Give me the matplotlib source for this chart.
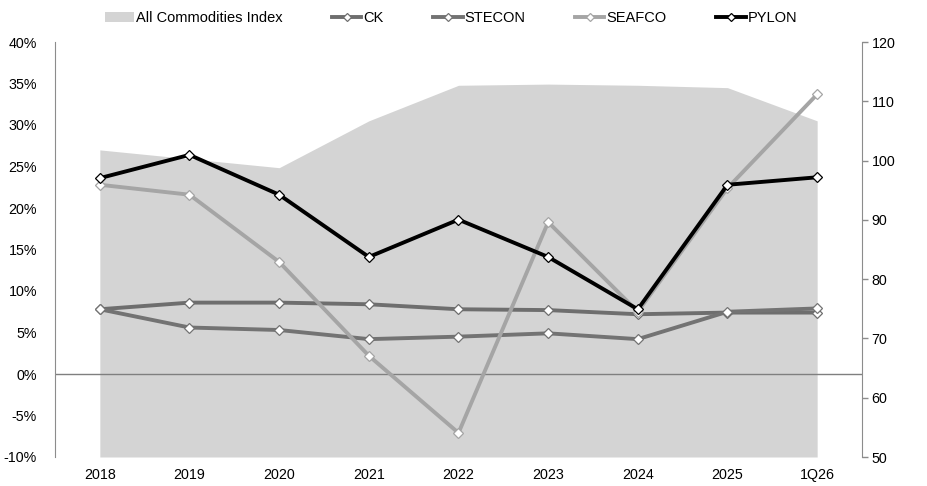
import matplotlib
matplotlib.use("Agg")
import matplotlib.pyplot as plt
from matplotlib.patches import Patch
from matplotlib.lines import Line2D

plt.rcParams['font.family'] = ['Liberation Sans', 'DejaVu Sans']

categories = ["2018", "2019", "2020", "2021", "2022", "2023", "2024", "2025", "1Q26"]
commodities_index = [101.8, 100.3, 98.8, 106.7, 112.7, 112.9, 112.7, 112.3, 106.7]
ck = [7.8, 8.6, 8.6, 8.4, 7.8, 7.7, 7.2, 7.4, 7.4]
stecon = [7.8, 5.6, 5.3, 4.2, 4.5, 4.9, 4.2, 7.5, 7.9]
seafco = [22.8, 21.6, 13.5, 2.2, -7.1, 18.3, 7.5, 22.4, 33.7]
pylon = [23.6, 26.4, 21.6, 14.1, 18.6, 14.1, 7.8, 22.8, 23.7]
left_ticks = [-10, -5, 0, 5, 10, 15, 20, 25, 30, 35, 40]
right_ticks = [50, 60, 70, 80, 90, 100, 110, 120]

fig = plt.figure(figsize=(9.28, 4.86), dpi=100)
ax = fig.add_axes([55 / 928, 1 - 457 / 486, (862 - 55) / 928, (457 - 42) / 486])
ax2 = ax.twinx()

x = list(range(len(categories)))

# commodity index as a filled area on the secondary axis
ax2.fill_between(x, 50, commodities_index, color="#d4d4d4", linewidth=0)
ax2.set_ylim(50, 120)
ax2.set_yticks(right_ticks)
ax2.tick_params(axis='y', length=4, width=1, color="#8c8c8c", labelsize=10.3, pad=3)

# growth lines drawn above the area
ax.set_zorder(ax2.get_zorder() + 1)
ax.patch.set_visible(False)

ax.axhline(0, color="#7f7f7f", linewidth=1, zorder=1)

series = [
    ("CK", ck, "#6e6e6e"),
    ("STECON", stecon, "#737373"),
    ("SEAFCO", seafco, "#a5a5a5"),
    ("PYLON", pylon, "#000000"),
]
for name, vals, col in series:
    ax.plot(x, vals, color=col, linewidth=2.8, marker="D", markersize=5.5,
            markerfacecolor="white", markeredgecolor=col, markeredgewidth=0.9,
            zorder=3, label=name)

ax.set_xlim(-0.5, len(categories) - 0.5)
ax.set_ylim(-10, 40)
ax.set_yticks(left_ticks)
ax.set_yticklabels([f"{t}%" for t in left_ticks])
ax.set_xticks(x)
ax.set_xticklabels(categories)
ax.tick_params(axis='y', length=0, labelsize=10.3, pad=13)
ax.tick_params(axis='x', length=0, labelsize=10.3, pad=8)

for a in (ax, ax2):
    a.spines['top'].set_visible(False)
    a.spines['bottom'].set_visible(False)
ax.spines['right'].set_visible(False)
ax2.spines['left'].set_visible(False)
ax.spines['left'].set_color("#8c8c8c")
ax2.spines['right'].set_color("#8c8c8c")

handles = [Patch(facecolor="#d4d4d4", edgecolor="none", label="All Commodities Index")]
for name, vals, col in series:
    handles.append(Line2D([0], [0], color=col, linewidth=2.8, marker="D", markersize=4.5,
                          markerfacecolor="white", markeredgecolor=col,
                          markeredgewidth=0.9, label=name))
fig.legend(handles=handles, loc="center", bbox_to_anchor=(0.486, 0.962), ncol=5,
           frameon=False, fontsize=10.5, handlelength=2.0, handletextpad=0.15,
           columnspacing=3.4)

fig.savefig("out.png", dpi=100)
